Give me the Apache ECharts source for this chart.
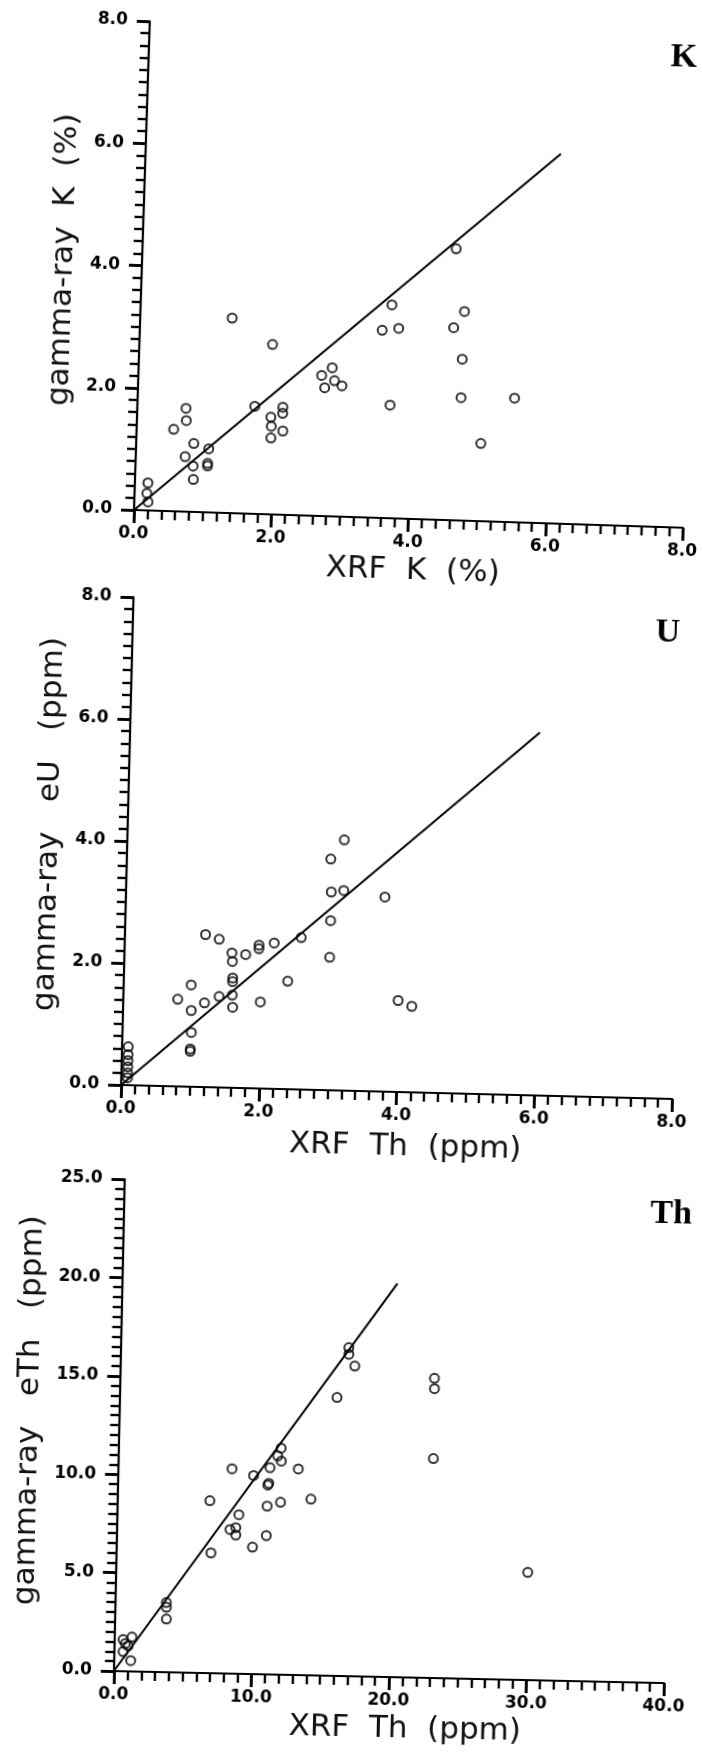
<!DOCTYPE html>
<html><head><meta charset="utf-8">
<script src="https://cdn.jsdelivr.net/npm/echarts/dist/echarts.min.js"></script>
<style>
html,body{margin:0;padding:0;background:#fff;width:703px;height:1755px;overflow:hidden;}
.panel{position:absolute;left:0;width:703px;}
#p1{top:0;height:590px;transform:rotate(1.85deg);transform-origin:134px 510px;}
#p2{top:580px;height:580px;transform:rotate(1.45deg);transform-origin:121px 510px;}
#p3{top:1160px;height:595px;transform:rotate(1.25deg);transform-origin:110px 511px;}
</style></head>
<body>
<div id="p1" class="panel"></div>
<div id="p2" class="panel"></div>
<div id="p3" class="panel"></div>
<script>
// ---- Panel K ----
const kXrf   = [4.57,3.66,4.72,1.34,3.53,3.77,4.57,1.94,4.71,2.82,2.67,2.72,2.86,2.97,4.71,5.49,3.68,5.02,1.71,0.71,0.72,0.54,1.95,1.96,1.96,2.12,2.12,2.13,0.84,1.06,0.72,0.84,1.05,1.05,0.85,0.19,0.18,0.20];
const kGamma = [4.44,3.49,3.42,3.19,3.07,3.11,3.15,2.78,2.64,2.43,2.30,2.10,2.22,2.14,2.01,2.03,1.85,1.27,1.76,1.69,1.49,1.34,1.59,1.44,1.25,1.76,1.66,1.37,1.12,1.04,0.90,0.75,0.80,0.76,0.53,0.45,0.28,0.14];
const kLineX = [0, 6.05];
const kLineY = [0, 6.05];
// ---- Panel U ----
const uXrf   = [3.15,2.96,2.98,3.16,3.76,2.98,2.98,1.17,1.37,2.17,2.56,1.95,1.95,1.76,1.56,1.57,1.58,1.58,1.58,1.59,1.39,1.18,0.98,0.79,0.99,1.00,0.99,0.99,1.99,2.38,3.99,4.19,0.09,0.09,0.09,0.09,0.09,0.09];
const uGamma = [4.11,3.79,3.25,3.28,3.19,2.78,2.18,2.50,2.43,2.39,2.49,2.35,2.29,2.19,2.21,2.07,1.80,1.74,1.52,1.32,1.49,1.38,1.67,1.43,1.25,0.89,0.62,0.58,1.42,1.77,1.50,1.41,0.63,0.50,0.40,0.30,0.20,0.12];
const uLineX = [0, 5.95];
const uLineY = [0, 5.95];
// ---- Panel Th ----
const thXrf   = [16.57,16.58,17.03,15.79,22.84,22.86,22.89,29.93,13.09,14.05,11.81,11.57,11.84,11.03,10.97,10.90,9.85,8.27,6.71,10.88,11.85,8.84,8.22,8.64,8.65,9.88,10.87,6.87,3.71,3.72,3.74,0.62,1.26,0.79,0.64,1.21,1.00];
const thGamma = [16.69,16.35,15.76,14.15,15.23,14.70,11.15,5.47,10.47,8.95,11.51,11.11,10.85,10.50,9.71,9.62,10.09,10.41,8.76,8.55,8.76,8.08,7.32,7.42,7.05,6.45,7.05,6.11,3.54,3.30,2.70,1.61,1.75,1.41,1.00,0.55,1.30];
const thLineX = [0, 20.0];
const thLineY = [0, 20.0];

const pair = (xs, ys) => xs.map((x, i) => [x, ys[i]]);

function axisCommon(max, step, minor) {
  return {
    type: 'value', min: 0, max: max, interval: step,
    axisLine: {show: true, onZero: false, lineStyle: {color: '#000', width: 2.2}},
    axisTick: {show: true, inside: false, length: 13, lineStyle: {color: '#000', width: 2.6}},
    minorTick: {show: true, splitNumber: minor, length: 9, lineStyle: {color: '#000', width: 2.2}},
    splitLine: {show: false}, minorSplitLine: {show: false},
    axisLabel: {color: '#000', fontFamily: 'DejaVu Sans', fontSize: 17, fontWeight: 'bold',
      formatter: v => v.toFixed(1)}
  };
}
function tickOnlyAxis(max, step, minor, position) {
  const a = axisCommon(max, step, minor);
  a.position = position;
  a.axisLine = {show: false, onZero: false};
  a.axisLabel = {show: false};
  return a;
}
const titleStyle = {color: '#111', fontFamily: 'DejaVu Sans', fontSize: 31, fontWeight: 'normal'};

function build(p) {
  const x = axisCommon(p.xMax, p.xStep, p.xMinor);
  Object.assign(x, {position: 'bottom', name: p.xName, nameLocation: 'middle', nameGap: p.xGap,
    nameTextStyle: Object.assign({padding: p.xPad}, titleStyle)});
  x.axisLabel.margin = 15;
  const y = axisCommon(p.yMax, p.yStep, p.yMinor);
  Object.assign(y, {position: 'left', name: p.yName, nameLocation: 'middle', nameGap: p.yGap,
    nameTextStyle: Object.assign({padding: p.yPad}, titleStyle)});
  y.axisLabel.margin = 22;
  return {
    animation: false,
    grid: {left: p.gl, top: p.gt, width: p.gw, height: p.gh, containLabel: false},
    xAxis: [x, tickOnlyAxis(p.xMax, p.xStep, p.xMinor, 'bottom')],
    yAxis: [y, tickOnlyAxis(p.yMax, p.yStep, p.yMinor, 'left')],
    series: [
      {type: 'line', data: pair(p.lx, p.ly), symbol: 'none', silent: true,
       lineStyle: {color: '#000', width: 2}, z: 2},
      {type: 'scatter', data: pair(p.xs, p.ys), symbol: 'circle', symbolSize: 9,
       itemStyle: {color: 'rgba(255,255,255,0)', borderColor: '#000', borderWidth: 2}, z: 3}
    ],
    graphic: [{type: 'text', x: p.tx, y: p.ty,
      style: {text: p.tag, font: 'bold 34px "Liberation Serif"', fill: '#000',
              align: 'center', verticalAlign: 'middle', textAlign: 'center', textVerticalAlign: 'middle'}}]
  };
}

const panels = [
  {id: 'p1', gl: 134, gt: 21, gw: 549, gh: 489, xMax: 8, xStep: 2, xMinor: 10, yMax: 8, yStep: 2, yMinor: 10,
   xName: 'XRF  K  (%)', yName: 'gamma-ray  K  (%)', xGap: 34, xPad: [0,0,0,12], yGap: 52, yPad: [0,0,0,7],
   xs: kXrf, ys: kGamma, lx: kLineX, ly: kLineY, tag: 'K', tx: 669, ty: 40},
  {id: 'p2', gl: 121, gt: 17, gw: 551, gh: 493, xMax: 8, xStep: 2, xMinor: 10, yMax: 8, yStep: 2, yMinor: 10,
   xName: 'XRF  Th  (ppm)', yName: 'gamma-ray   eU   (ppm)', xGap: 39, xPad: [0,0,0,20], yGap: 53, yPad: [0,0,0,30],
   xs: uXrf, ys: uGamma, lx: uLineX, ly: uLineY, tag: 'U', tx: 656, ty: 39},
  {id: 'p3', gl: 110, gt: 19, gw: 554, gh: 492, xMax: 40, xStep: 10, xMinor: 10, yMax: 25, yStep: 5, yMinor: 10,
   xName: 'XRF  Th  (ppm)', yName: 'gamma-ray   eTh   (ppm)', xGap: 36, xPad: [0,0,0,34], yGap: 59, yPad: [0,0,0,26],
   xs: thXrf, ys: thGamma, lx: thLineX, ly: thLineY, tag: 'Th', tx: 661, ty: 42}
];
panels.forEach(p => {
  const chart = echarts.init(document.getElementById(p.id), null, {renderer: 'canvas'});
  chart.setOption(build(p));
});
</script>
</body></html>
